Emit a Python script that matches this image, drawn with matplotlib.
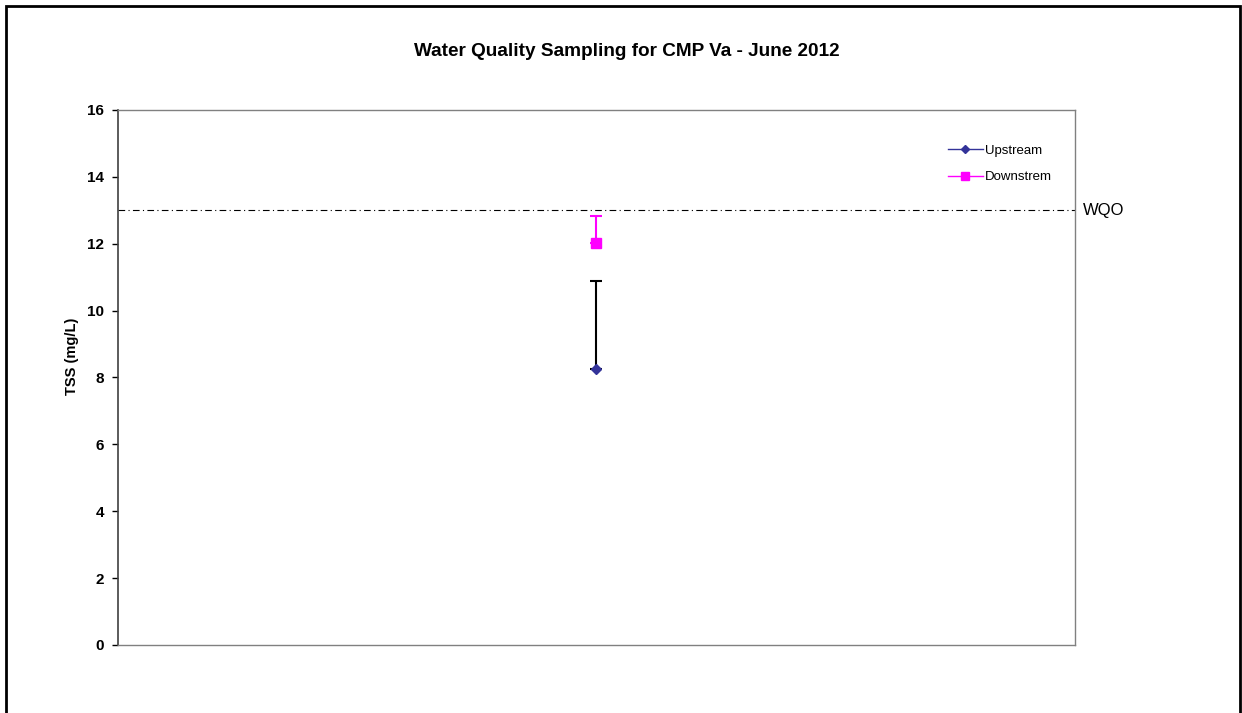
import matplotlib
matplotlib.use("Agg")
import matplotlib.pyplot as plt
from matplotlib.patches import Rectangle

plt.rcParams['font.family'] = ['Liberation Sans', 'DejaVu Sans']

# Data
sample_x = [1]
upstream = [8.25]
upstream_err_up = [2.63]
downstream = [12.02]
downstream_err_up = [0.81]
wqo = 13.0
y_ticks = [0, 2, 4, 6, 8, 10, 12, 14, 16]

fig = plt.figure(figsize=(12.42, 7.13), dpi=100)
ax = fig.add_axes([0.0950, 0.0954, 0.7705, 0.7504])

# outer frame
fig.patches.append(Rectangle((6/1242, -0.01), (1240-6)/1242, 1 - 6/713 + 0.01,
                             transform=fig.transFigure, fill=False,
                             edgecolor='black', linewidth=2, zorder=0))

ax.axhline(wqo, color='black', linestyle=(0, (6, 3, 1, 3)), linewidth=0.8, zorder=1)

ax.errorbar(sample_x, upstream, yerr=[[0], upstream_err_up], fmt='none',
            ecolor='black', elinewidth=1.5, capsize=4, capthick=1.5, zorder=2)
ax.errorbar(sample_x, downstream, yerr=[[0], downstream_err_up], fmt='none',
            ecolor='#FF00FF', elinewidth=1.5, capsize=4, capthick=1.5, zorder=2)

ax.plot(sample_x, upstream, color='#333399', marker='D', markersize=5,
        linewidth=1, label='Upstream', zorder=3)
ax.plot(sample_x, downstream, color='#FF00FF', marker='s', markersize=7,
        linewidth=1, label='Downstrem', zorder=3)

ax.set_xlim(0, 2)
ax.set_ylim(0, 16)
ax.set_yticks(y_ticks)
ax.set_yticklabels([str(t) for t in y_ticks], fontsize=11, fontweight='bold')
ax.set_xticks([])
ax.tick_params(axis='y', direction='out', length=4, width=1, pad=6)

for s in ['top', 'right', 'bottom']:
    ax.spines[s].set_color('#808080')
    ax.spines[s].set_linewidth(1)
ax.spines['left'].set_color('#404040')
ax.spines['left'].set_linewidth(1.2)

ax.set_ylabel('TSS (mg/L)', fontsize=10.5, fontweight='bold')
ax.yaxis.set_label_coords(72/1242, 0.5, transform=fig.transFigure)
ax.yaxis.label.set_va('center')

fig.text(627/1242, 1 - 51/713, 'Water Quality Sampling for CMP Va - June 2012',
         ha='center', va='center', fontsize=13.7, fontweight='bold')

ax.text(1.0085, wqo, 'WQO', transform=ax.get_yaxis_transform(),
        ha='left', va='center', fontsize=12)

leg = ax.legend(loc='upper right', bbox_to_anchor=(0.988, 0.958), frameon=False,
                fontsize=9.5, handlelength=2.6, handletextpad=0.15,
                labelspacing=1.1, markerscale=0.8)

fig.savefig('out.png', dpi=100)
